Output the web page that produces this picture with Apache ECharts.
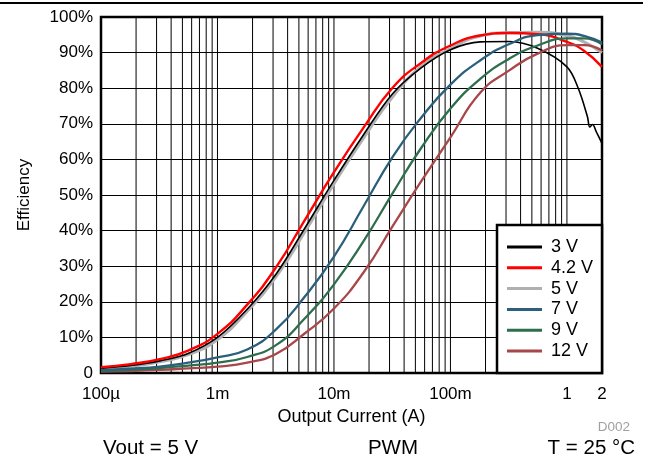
<!DOCTYPE html>
<html>
<head>
<meta charset="utf-8">
<script src="https://cdn.jsdelivr.net/npm/echarts/dist/echarts.min.js"></script>
<style>
  html, body { margin: 0; padding: 0; background: #fff; }
  #chart { width: 653px; height: 463px; }
</style>
</head>
<body>
<div id="chart"></div>
<script>
// ---- Data ----
const seriesNames = ['3 V', '4.2 V', '5 V', '7 V', '9 V', '12 V'];
const seriesColors = ['#000000', '#ff0000', '#b0b0b0', '#2c5f7c', '#2e6e4e', '#a8474a'];

const currentA = [1e-4, 1.8e-4, 3.2e-4, 5.6e-4, 1e-3, 1.8e-3, 3.2e-3, 5.6e-3, 1e-2, 1.8e-2, 3.2e-2, 5.6e-2, 0.1, 0.18, 0.32, 0.56, 1, 1.4, 2];
const currentA3V = [1e-4, 1.8e-4, 3.2e-4, 5.6e-4, 1e-3, 1.8e-3, 3.2e-3, 5.6e-3, 1e-2, 1.8e-2, 3.2e-2, 5.6e-2, 0.1, 0.18, 0.32, 0.56, 1, 1.25, 1.5, 1.57, 1.66, 1.79, 2];

const eff3V  = [1.3, 2.1, 3.4, 5.5, 10, 17.9, 27.9, 40.6, 54.1, 67, 78.5, 85.7, 90.8, 93, 93.1, 91.2, 86, 80, 72, 69.1, 69.8, 67.7, 64.5];
const eff42V = [1.6, 2.5, 3.9, 6.3, 11, 19.2, 29.8, 42.9, 56.4, 69, 80.2, 87.1, 92, 94.8, 95.5, 95.2, 93, 90.5, 86];
const eff5V  = [1.2, 1.9, 3.2, 5.2, 9.4, 17.4, 27.2, 39.6, 53.2, 66.1, 77.7, 86, 91.1, 94.7, 95.6, 95.7, 94.8, 93, 90];
const eff7V  = [0.8, 1.2, 1.8, 2.9, 4.4, 6.6, 12.3, 21.4, 32.7, 46.9, 60.8, 71.7, 81, 87.8, 92.4, 94.9, 95.3, 94.7, 92.8];
const eff9V  = [0.6, 0.9, 1.4, 2.1, 2.9, 4.5, 7.9, 15.3, 24.9, 37.1, 50.6, 63.2, 74.3, 82.6, 88.3, 92, 94, 94, 92.3];
const eff12V = [0.4, 0.55, 0.85, 1.3, 1.8, 2.9, 5.4, 11.1, 18.1, 28.3, 41.3, 53.8, 66.2, 78.7, 85, 89.7, 92.1, 92.1, 90.6];

const xTickValues = [1e-4, 1e-3, 1e-2, 0.1, 1, 2];
const xTickLabels = ['100µ', '1m', '10m', '100m', '1', '2'];
const xGridMultipliers = [1, 2, 3, 4, 5, 6, 7, 8, 9];
const xGridDecades = [1e-4, 1e-3, 1e-2, 0.1];
const xGridTop = [1];

const FONT = '"Liberation Sans", Arial, Helvetica, sans-serif';

// vertical grid positions (1..9 per decade)
const xGridValues = [];
xGridDecades.forEach(d => xGridMultipliers.forEach(m => xGridValues.push(m * d)));
xGridTop.forEach(v => xGridValues.push(v));
const gridLineData = [];
xGridValues.forEach(v => { gridLineData.push([v, 0], [v, 100], [v, '-']); });

function pairs(xs, ys) { return xs.map((x, i) => [x, ys[i]]); }

function xLabel(v) {
  const lv = Math.log10(v);
  for (let i = 0; i < xTickValues.length; i++) {
    if (Math.abs(Math.log10(xTickValues[i]) - lv) < 0.01) return xTickLabels[i];
  }
  return '';
}

const seriesData = {
  '3 V': pairs(currentA3V, eff3V),
  '4.2 V': pairs(currentA, eff42V),
  '5 V': pairs(currentA, eff5V),
  '7 V': pairs(currentA, eff7V),
  '9 V': pairs(currentA, eff9V),
  '12 V': pairs(currentA, eff12V)
};
const lineWidths = { '3 V': 1.6, '4.2 V': 2.4, '5 V': 3.2, '7 V': 2.3, '9 V': 2.3, '12 V': 2.3 };
const drawOrder = ['5 V', '3 V', '4.2 V', '12 V', '9 V', '7 V'];

const series = [{
  name: '_grid',
  type: 'line',
  data: gridLineData,
  showSymbol: false,
  symbol: 'none',
  smooth: false,
  connectNulls: false,
  silent: true,
  z: 1,
  lineStyle: { color: '#000', width: 1 }
}];
drawOrder.forEach(name => {
  const idx = seriesNames.indexOf(name);
  series.push({
    name: name,
    type: 'line',
    data: seriesData[name],
    showSymbol: false,
    symbol: 'none',
    smooth: name === '3 V' ? 0.35 : 0.5,
    color: seriesColors[idx],
    lineStyle: { width: lineWidths[name], color: seriesColors[idx] },
    z: 3,
    silent: true
  });
});

const chart = echarts.init(document.getElementById('chart'), null, { renderer: 'canvas' });
chart.setOption({
  animation: false,
  backgroundColor: '#fff',
  textStyle: { fontFamily: FONT },
  grid: {
    left: 101, top: 17, width: 501, height: 356,
    show: true, borderColor: '#000', borderWidth: 2.5, backgroundColor: 'transparent'
  },
  xAxis: {
    type: 'log', logBase: 10, min: 1e-4, max: 2,
    name: 'Output Current (A)', nameLocation: 'middle', nameGap: 32,
    nameTextStyle: { fontFamily: FONT, fontSize: 18, color: '#000' },
    axisLine: { show: false }, axisTick: { show: false },
    splitLine: { show: false }, minorTick: { show: false },
    axisLabel: {
      formatter: xLabel, fontFamily: FONT, fontSize: 17, color: '#000',
      margin: 13, showMinLabel: true, showMaxLabel: true, hideOverlap: false
    }
  },
  yAxis: {
    type: 'value', min: 0, max: 100, interval: 10,
    name: 'Efficiency', nameLocation: 'middle', nameGap: 68, nameRotate: 90,
    nameTextStyle: { fontFamily: FONT, fontSize: 17, color: '#000' },
    axisLine: { show: false }, axisTick: { show: false },
    splitLine: { show: true, lineStyle: { color: '#000', width: 1 } },
    axisLabel: {
      formatter: v => (v === 0 ? '0' : v + '%'),
      fontFamily: FONT, fontSize: 17, color: '#000', margin: 8
    }
  },
  legend: {
    data: seriesNames,
    left: 507, top: 238, orient: 'vertical',
    icon: 'rect', itemWidth: 35, itemHeight: 3, itemGap: 2.8,
    padding: 0, z: 20, selectedMode: false,
    textStyle: { fontFamily: FONT, fontSize: 18, color: '#000', lineHeight: 18, padding: [0, 0, 0, 4] }
  },
  graphic: [
    { type: 'line', shape: { x1: 0, y1: 3, x2: 643, y2: 3 }, style: { stroke: '#000', lineWidth: 2 }, z: 10 },
    { type: 'rect', shape: { x: 497, y: 225, width: 105, height: 148 }, style: { fill: '#fff', stroke: '#000', lineWidth: 2.5 }, z: 10 },
    { type: 'text', x: 103, y: 448, z: 10, style: { text: 'Vout = 5 V', font: '20.5px ' + FONT, fill: '#000', textAlign: 'left', textVerticalAlign: 'middle', verticalAlign: 'middle' } },
    { type: 'text', x: 393, y: 448, z: 10, style: { text: 'PWM', font: '20.5px ' + FONT, fill: '#000', textAlign: 'center', textVerticalAlign: 'middle', verticalAlign: 'middle' } },
    { type: 'text', x: 635, y: 448, z: 10, style: { text: 'T = 25 °C', font: '20.5px ' + FONT, fill: '#000', textAlign: 'right', textVerticalAlign: 'middle', verticalAlign: 'middle' } },
    { type: 'text', x: 630, y: 427, z: 10, style: { text: 'D002', font: '13.5px ' + FONT, fill: '#a0a0a0', textAlign: 'right', textVerticalAlign: 'middle', verticalAlign: 'middle' } }
  ],
  series: series
});
</script>
</body>
</html>
